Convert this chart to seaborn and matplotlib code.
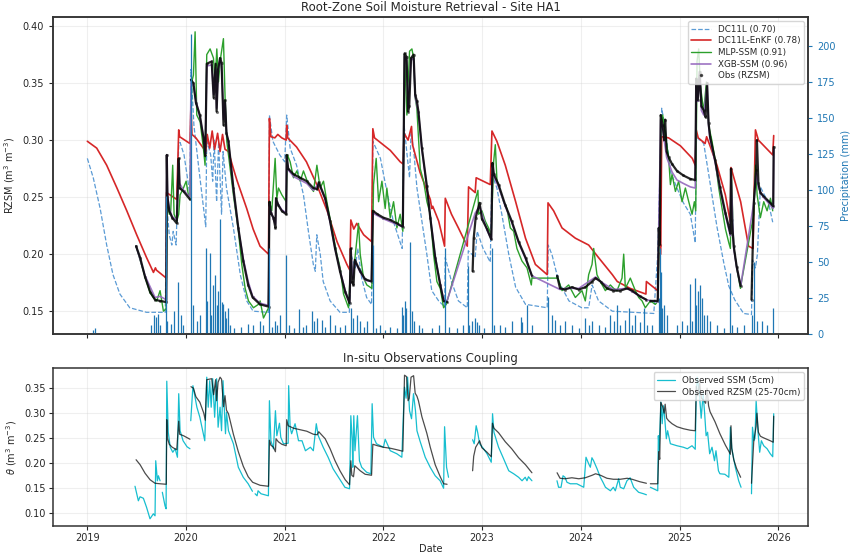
import numpy as np
import pandas as pd
import seaborn as sns
import matplotlib.pyplot as plt
import matplotlib.dates as mdates
from matplotlib.lines import Line2D

sns.set_style("ticks")
plt.rcParams["font.family"] = ["DejaVu Sans"]
plt.rcParams["font.size"] = 7

nan = np.nan

# ---- data (time as decimal year) ----
obs_t = [2019.494, 2019.535, 2019.585, 2019.636, 2019.686, 2019.737, 2019.800, 2019.805, 2019.812, 2019.830,
         2019.860, 2019.906, 2019.926, 2019.935, 2019.975, 2020.040, 2020.045, 2020.050, 2020.075, 2020.100,
         2020.140, 2020.180, 2020.195, 2020.210, 2020.260, 2020.280, 2020.300, 2020.310, 2020.325, 2020.345,
         2020.360, 2020.380, 2020.395, 2020.410, 2020.430, 2020.480, 2020.530, 2020.580, 2020.630, 2020.675,
         2020.750, 2020.836, 2020.845, 2020.860, 2020.886, 2020.906, 2020.912, 2020.935, 2020.970, 2021.015,
         2021.020, 2021.035, 2021.090, 2021.157, 2021.224, 2021.290, 2021.330, 2021.345, 2021.410, 2021.460,
         2021.510, 2021.560, 2021.613, 2021.657, 2021.670, 2021.680, 2021.697, 2021.710, 2021.765, 2021.815,
         2021.880, 2021.893, 2021.940, 2022.000, 2022.070, 2022.137, 2022.197, 2022.214, 2022.235, 2022.250,
         2022.262, 2022.280, 2022.306, 2022.322, 2022.340, 2022.355, 2022.390, 2022.440, 2022.475, 2022.525,
         2022.576, 2022.610, 2022.645, 2022.700, 2022.904, 2022.915, 2022.935, 2022.975, 2022.998, 2023.050,
         2023.093, 2023.105, 2023.120, 2023.167, 2023.235, 2023.300, 2023.370, 2023.440, 2023.505, 2023.600,
         2023.760, 2023.790, 2023.840, 2023.910, 2023.980, 2024.046, 2024.115, 2024.150, 2024.200, 2024.265,
         2024.330, 2024.400, 2024.470, 2024.520, 2024.600, 2024.665, 2024.685, 2024.705, 2024.780, 2024.790,
         2024.800, 2024.810, 2024.830, 2024.845, 2024.855, 2024.870, 2024.890, 2024.925, 2024.975, 2025.040,
         2025.110, 2025.160, 2025.170, 2025.185, 2025.205, 2025.222, 2025.246, 2025.265, 2025.280, 2025.295,
         2025.310, 2025.360, 2025.410, 2025.466, 2025.500, 2025.516, 2025.522, 2025.530, 2025.550, 2025.580,
         2025.620, 2025.680, 2025.730, 2025.753, 2025.777, 2025.785, 2025.800, 2025.820, 2025.850, 2025.920,
         2025.950, 2025.955]
obs_rzsm = [0.207, 0.197, 0.180, 0.167, 0.160, 0.159, 0.158, 0.287, 0.250, 0.238,
            0.232, 0.227, 0.284, 0.258, 0.255, 0.248, nan, 0.353, 0.350, 0.333,
            0.322, 0.300, 0.286, 0.367, 0.369, 0.337, 0.367, 0.325, 0.362, 0.372,
            0.368, 0.313, 0.335, 0.306, 0.299, 0.258, 0.223, 0.194, 0.173, 0.162,
            0.156, 0.154, 0.246, 0.236, 0.232, 0.223, 0.249, 0.243, 0.238, 0.235,
            0.287, 0.275, 0.270, 0.267, 0.264, 0.258, 0.257, 0.263, 0.249, 0.229,
            0.205, 0.185, 0.167, 0.157, 0.205, 0.176, 0.173, 0.195, 0.185, 0.178,
            0.176, 0.238, 0.235, 0.232, 0.230, 0.227, 0.224, 0.376, 0.373, 0.325,
            0.330, 0.372, 0.375, 0.340, 0.334, 0.325, 0.293, 0.260, 0.232, 0.197,
            0.173, 0.159, 0.158, nan, 0.185, 0.214, 0.232, 0.245, 0.231, 0.222,
            0.213, 0.280, 0.270, 0.261, 0.243, 0.229, 0.211, 0.197, 0.181, nan,
            0.181, 0.170, 0.169, 0.171, 0.169, 0.171, 0.176, 0.179, 0.176, 0.170,
            0.168, 0.168, 0.170, 0.168, 0.163, 0.160, nan, 0.159, 0.159, 0.223,
            0.208, 0.322, 0.313, 0.300, 0.318, 0.290, 0.285, 0.279, 0.273, 0.269,
            0.266, 0.265, 0.354, 0.335, 0.360, 0.330, 0.326, 0.320, 0.350, 0.315,
            0.303, 0.283, 0.259, 0.236, 0.224, 0.218, 0.275, 0.230, 0.207, 0.189,
            0.172, nan, 0.160, 0.245, 0.274, 0.300, 0.262, 0.254, 0.251, 0.245,
            0.242, 0.294]

xgb_t = [2019.494, 2019.585, 2019.686, 2019.737, 2019.800, 2019.805, 2019.812, 2019.830, 2019.860, 2019.906,
         2019.926, 2019.935, 2019.975, 2020.040, 2020.050, 2020.075, 2020.100, 2020.140, 2020.180, 2020.195,
         2020.210, 2020.260, 2020.280, 2020.300, 2020.310, 2020.325, 2020.345, 2020.360, 2020.380, 2020.395,
         2020.410, 2020.430, 2020.480, 2020.530, 2020.580, 2020.630, 2020.675, 2020.750, 2020.836, 2020.845,
         2020.860, 2020.906, 2020.912, 2020.970, 2021.015, 2021.020, 2021.035, 2021.090, 2021.157, 2021.224,
         2021.290, 2021.345, 2021.410, 2021.460, 2021.510, 2021.560, 2021.613, 2021.657, 2021.670, 2021.690,
         2021.710, 2021.765, 2021.815, 2021.880, 2021.893, 2022.000, 2022.137, 2022.197, 2022.214, 2022.235,
         2022.250, 2022.280, 2022.306, 2022.322, 2022.355, 2022.390, 2022.440, 2022.475, 2022.525, 2022.576,
         2022.610, 2022.645, 2022.930, 2022.975, 2023.050, 2023.093, 2023.105, 2023.120, 2023.167, 2023.235,
         2023.300, 2023.370, 2023.440, 2023.505, 2023.790, 2023.840, 2023.980, 2024.115, 2024.150, 2024.200,
         2024.330, 2024.470, 2024.600, 2024.665, 2024.780, 2024.790, 2024.810, 2024.830, 2024.870, 2024.925,
         2024.975, 2025.040, 2025.110, 2025.160, 2025.170, 2025.185, 2025.205, 2025.222, 2025.246, 2025.280,
         2025.295, 2025.310, 2025.360, 2025.410, 2025.466, 2025.516, 2025.522, 2025.550, 2025.580, 2025.620,
         2025.753, 2025.777, 2025.800, 2025.850, 2025.920, 2025.950, 2025.955]
xgb_ssm = [0.207, 0.181, 0.162, 0.163, 0.160, 0.287, 0.252, 0.240, 0.233, 0.230,
           0.280, 0.262, 0.256, 0.250, 0.350, 0.348, 0.335, 0.320, 0.302, 0.288,
           0.365, 0.366, 0.340, 0.363, 0.328, 0.360, 0.370, 0.365, 0.318, 0.333,
           0.306, 0.298, 0.256, 0.222, 0.196, 0.176, 0.163, 0.157, 0.155, 0.244,
           0.237, 0.226, 0.247, 0.239, 0.236, 0.284, 0.274, 0.268, 0.265, 0.262,
           0.256, 0.262, 0.248, 0.228, 0.205, 0.186, 0.168, 0.158, 0.203, 0.178,
           0.194, 0.184, 0.177, 0.176, 0.236, 0.231, 0.226, 0.224, 0.374, 0.370,
           0.328, 0.370, 0.372, 0.338, 0.324, 0.292, 0.259, 0.233, 0.198, 0.174,
           0.160, 0.159, 0.236, 0.242, 0.221, 0.213, 0.278, 0.268, 0.259, 0.242,
           0.228, 0.210, 0.196, 0.181, 0.169, 0.170, 0.170, 0.178, 0.180, 0.176,
           0.169, 0.170, 0.163, 0.160, 0.158, 0.220, 0.318, 0.310, 0.285, 0.272,
           0.265, 0.262, 0.259, 0.258, 0.350, 0.334, 0.358, 0.326, 0.322, 0.348,
           0.313, 0.301, 0.281, 0.257, 0.234, 0.216, 0.272, 0.205, 0.188, 0.172,
           0.245, 0.272, 0.258, 0.250, 0.243, 0.240, 0.292]

mlp_t = [2019.494, 2019.534, 2019.585, 2019.636, 2019.669, 2019.703, 2019.737, 2019.771, 2019.798, 2019.811,
         2019.831, 2019.845, 2019.865, 2019.879, 2019.906, 2019.926, 2019.940, 2019.974, 2020.001, 2020.024,
         2020.041, 2020.058, 2020.075, 2020.092, 2020.109, 2020.143, 2020.176, 2020.193, 2020.210, 2020.244,
         2020.278, 2020.295, 2020.312, 2020.329, 2020.345, 2020.379, 2020.396, 2020.413, 2020.430, 2020.480,
         2020.531, 2020.565, 2020.599, 2020.633, 2020.683, 2020.734, 2020.751, 2020.785, 2020.836, 2020.846,
         2020.869, 2020.903, 2020.920, 2020.937, 2020.971, 2021.015, 2021.028, 2021.055, 2021.089, 2021.123,
         2021.157, 2021.190, 2021.241, 2021.292, 2021.326, 2021.359, 2021.393, 2021.427, 2021.477, 2021.528,
         2021.562, 2021.596, 2021.647, 2021.670, 2021.691, 2021.748, 2021.765, 2021.799, 2021.832, 2021.883,
         2021.900, 2021.927, 2021.951, 2021.985, 2022.018, 2022.035, 2022.069, 2022.103, 2022.137, 2022.170,
         2022.197, 2022.214, 2022.238, 2022.265, 2022.289, 2022.306, 2022.322, 2022.339, 2022.373, 2022.407,
         2022.441, 2022.475, 2022.508, 2022.542, 2022.576, 2022.610, 2022.637, 2022.958, 2022.965, 2022.999,
         2023.032, 2023.066, 2023.093, 2023.117, 2023.134, 2023.151, 2023.184, 2023.218, 2023.252, 2023.286,
         2023.320, 2023.353, 2023.404, 2023.455, 2023.499, 2023.505, 2023.769, 2023.810, 2023.877, 2023.945,
         2024.012, 2024.046, 2024.080, 2024.114, 2024.131, 2024.164, 2024.198, 2024.249, 2024.300, 2024.333,
         2024.367, 2024.418, 2024.435, 2024.452, 2024.502, 2024.553, 2024.587, 2024.621, 2024.654, 2024.705,
         2024.756, 2024.783, 2024.796, 2024.813, 2024.830, 2024.857, 2024.891, 2024.908, 2024.925, 2024.959,
         2024.992, 2025.026, 2025.060, 2025.094, 2025.128, 2025.151, 2025.165, 2025.178, 2025.195, 2025.212,
         2025.246, 2025.273, 2025.296, 2025.330, 2025.364, 2025.398, 2025.432, 2025.466, 2025.500, 2025.516,
         2025.526, 2025.550, 2025.584, 2025.618, 2025.635, 2025.753, 2025.770, 2025.787, 2025.820, 2025.854,
         2025.888, 2025.922, 2025.945]
mlp_ssm = [0.207, 0.195, 0.180, 0.166, 0.162, 0.159, 0.168, 0.150, 0.152, 0.252,
           0.235, 0.238, 0.278, 0.235, 0.229, 0.235, 0.252, 0.258, 0.264, 0.252,
           0.249, 0.351, 0.357, 0.395, 0.322, 0.316, 0.293, 0.278, 0.375, 0.380,
           0.372, 0.351, 0.380, 0.351, 0.369, 0.389, 0.337, 0.299, 0.287, 0.252,
           0.220, 0.191, 0.170, 0.159, 0.153, 0.156, 0.159, 0.144, 0.153, 0.246,
           0.238, 0.284, 0.249, 0.258, 0.252, 0.246, 0.287, 0.281, 0.267, 0.273,
           0.264, 0.273, 0.261, 0.255, 0.278, 0.258, 0.264, 0.246, 0.223, 0.200,
           0.188, 0.165, 0.153, 0.194, 0.179, 0.227, 0.200, 0.179, 0.173, 0.170,
           0.261, 0.284, 0.246, 0.264, 0.240, 0.258, 0.232, 0.246, 0.223, 0.235,
           0.220, 0.375, 0.322, 0.378, 0.380, 0.372, 0.337, 0.328, 0.275, 0.264,
           0.246, 0.235, 0.200, 0.176, 0.170, 0.153, 0.156, 0.256, 0.235, 0.238,
           0.229, 0.223, 0.217, 0.281, 0.296, 0.264, 0.255, 0.246, 0.240, 0.223,
           0.220, 0.205, 0.194, 0.188, 0.173, 0.179, 0.179, 0.168, 0.173, 0.162,
           0.168, 0.159, 0.182, 0.191, 0.205, 0.182, 0.176, 0.168, 0.173, 0.170,
           0.168, 0.179, 0.200, 0.170, 0.179, 0.168, 0.162, 0.159, 0.153, 0.159,
           0.156, 0.159, 0.223, 0.313, 0.322, 0.305, 0.284, 0.261, 0.270, 0.255,
           0.264, 0.246, 0.258, 0.246, 0.235, 0.246, 0.238, 0.369, 0.380, 0.348,
           0.325, 0.351, 0.313, 0.299, 0.281, 0.258, 0.240, 0.222, 0.210, 0.205,
           0.272, 0.206, 0.186, 0.170, 0.179, 0.235, 0.278, 0.252, 0.232, 0.246,
           0.238, 0.249, 0.238]

enkf_t = [2019.000, 2019.095, 2019.196, 2019.300, 2019.400, 2019.500, 2019.600, 2019.670, 2019.690, 2019.700,
          2019.800, 2019.803, 2019.906, 2019.926, 2019.935, 2020.040, 2020.050, 2020.060, 2020.100, 2020.150,
          2020.200, 2020.215, 2020.240, 2020.265, 2020.290, 2020.320, 2020.345, 2020.370, 2020.395, 2020.430,
          2020.480, 2020.515, 2020.615, 2020.680, 2020.750, 2020.836, 2020.845, 2020.860, 2020.900, 2020.930,
          2020.970, 2021.015, 2021.020, 2021.030, 2021.120, 2021.220, 2021.325, 2021.430, 2021.530, 2021.630,
          2021.660, 2021.670, 2021.700, 2021.730, 2021.800, 2021.880, 2021.893, 2021.910, 2022.070, 2022.170,
          2022.200, 2022.210, 2022.250, 2022.285, 2022.295, 2022.370, 2022.475, 2022.490, 2022.500, 2022.560,
          2022.620, 2022.627, 2022.690, 2022.760, 2022.850, 2022.863, 2022.930, 2022.940, 2023.083, 2023.100,
          2023.150, 2023.235, 2023.340, 2023.440, 2023.540, 2023.660, 2023.668, 2023.725, 2023.810, 2023.945,
          2024.080, 2024.180, 2024.320, 2024.370, 2024.500, 2024.660, 2024.665, 2024.780, 2024.790, 2024.810,
          2024.820, 2024.890, 2025.010, 2025.130, 2025.160, 2025.170, 2025.190, 2025.260, 2025.275, 2025.310,
          2025.380, 2025.465, 2025.516, 2025.522, 2025.620, 2025.700, 2025.745, 2025.770, 2025.800, 2025.945,
          2025.955]
enkf_rzsm = [0.299, 0.293, 0.278, 0.258, 0.238, 0.217, 0.197, 0.184, 0.188, 0.186,
             0.179, 0.254, 0.248, 0.309, 0.303, 0.297, 0.331, 0.305, 0.302, 0.296,
             0.290, 0.305, 0.293, 0.308, 0.292, 0.306, 0.290, 0.305, 0.292, 0.290,
             0.275, 0.265, 0.240, 0.222, 0.207, 0.200, 0.319, 0.303, 0.302, 0.305,
             0.302, 0.300, 0.313, 0.302, 0.294, 0.281, 0.261, 0.238, 0.211, 0.191,
             0.186, 0.230, 0.222, 0.227, 0.217, 0.211, 0.310, 0.302, 0.291, 0.281,
             0.279, 0.306, 0.300, 0.312, 0.296, 0.272, 0.248, 0.240, 0.242, 0.229,
             0.207, 0.249, 0.235, 0.223, 0.207, 0.259, 0.254, 0.267, 0.261, 0.308,
             0.299, 0.278, 0.246, 0.214, 0.191, 0.182, 0.245, 0.238, 0.223, 0.214,
             0.208, 0.197, 0.182, 0.176, 0.170, 0.165, 0.176, 0.168, 0.201, 0.200,
             0.303, 0.302, 0.295, 0.284, 0.278, 0.309, 0.302, 0.297, 0.303, 0.295,
             0.278, 0.252, 0.228, 0.276, 0.246, 0.207, 0.205, 0.309, 0.300, 0.287,
             0.304]

dc11l_t = [2019.000, 2019.060, 2019.130, 2019.196, 2019.260, 2019.330, 2019.430, 2019.600, 2019.790, 2019.803,
           2019.830, 2019.856, 2019.870, 2019.900, 2019.926, 2019.940, 2019.980, 2020.040, 2020.050, 2020.080,
           2020.130, 2020.200, 2020.210, 2020.250, 2020.270, 2020.285, 2020.310, 2020.330, 2020.360, 2020.375,
           2020.410, 2020.480, 2020.550, 2020.615, 2020.680, 2020.836, 2020.845, 2020.880, 2020.950, 2021.000,
           2021.020, 2021.055, 2021.120, 2021.190, 2021.240, 2021.290, 2021.310, 2021.325, 2021.360, 2021.390,
           2021.460, 2021.560, 2021.655, 2021.670, 2021.715, 2021.740, 2021.780, 2021.830, 2021.880, 2021.893,
           2021.970, 2022.035, 2022.100, 2022.190, 2022.210, 2022.240, 2022.265, 2022.280, 2022.305, 2022.340,
           2022.390, 2022.440, 2022.490, 2022.560, 2022.620, 2022.627, 2022.690, 2022.760, 2022.850, 2022.860,
           2022.930, 2022.950, 2023.010, 2023.083, 2023.100, 2023.150, 2023.200, 2023.270, 2023.340, 2023.440,
           2023.660, 2023.670, 2023.710, 2023.776, 2023.880, 2024.010, 2024.080, 2024.115, 2024.180, 2024.320,
           2024.740, 2024.780, 2024.820, 2024.850, 2024.910, 2024.975, 2025.040, 2025.110, 2025.160, 2025.170,
           2025.246, 2025.300, 2025.380, 2025.450, 2025.500, 2025.560, 2025.650, 2025.730, 2025.740, 2025.770,
           2025.790, 2025.820, 2025.860, 2025.900, 2025.945]
dc11l_rzsm = [0.284, 0.267, 0.240, 0.208, 0.182, 0.165, 0.153, 0.149, 0.149, 0.246,
              0.217, 0.208, 0.220, 0.208, 0.296, 0.298, 0.287, 0.252, 0.362, 0.313,
              0.275, 0.224, 0.300, 0.287, 0.264, 0.300, 0.246, 0.298, 0.235, 0.290,
              0.258, 0.223, 0.182, 0.159, 0.150, 0.149, 0.322, 0.299, 0.287, 0.281,
              0.322, 0.293, 0.278, 0.252, 0.220, 0.191, 0.185, 0.217, 0.200, 0.176,
              0.159, 0.149, 0.149, 0.200, 0.188, 0.205, 0.179, 0.162, 0.156, 0.299,
              0.284, 0.255, 0.229, 0.205, 0.313, 0.287, 0.267, 0.307, 0.293, 0.258,
              0.229, 0.200, 0.168, 0.159, 0.154, 0.197, 0.176, 0.159, 0.153, 0.203,
              0.197, 0.220, 0.205, 0.193, 0.270, 0.258, 0.235, 0.200, 0.171, 0.156,
              0.153, 0.208, 0.199, 0.176, 0.159, 0.153, 0.153, 0.173, 0.159, 0.150,
              0.148, 0.200, 0.328, 0.313, 0.272, 0.258, 0.245, 0.235, 0.210, 0.303,
              0.297, 0.268, 0.224, 0.192, 0.172, 0.160, 0.148, 0.147, 0.195, 0.188,
              0.200, 0.259, 0.252, 0.246, 0.228]

ssm_t = [2019.483, 2019.517, 2019.534, 2019.568, 2019.600, 2019.635, 2019.669, 2019.686, 2019.693, 2019.710,
         2019.720, 2019.737, 2019.745, 2019.760, 2019.787, 2019.798, 2019.805, 2019.820, 2019.840, 2019.866,
         2019.890, 2019.913, 2019.926, 2019.940, 2019.970, 2020.010, 2020.040, 2020.044, 2020.048, 2020.070,
         2020.110, 2020.140, 2020.190, 2020.210, 2020.225, 2020.240, 2020.255, 2020.270, 2020.290, 2020.310,
         2020.325, 2020.345, 2020.360, 2020.375, 2020.400, 2020.410, 2020.430, 2020.480, 2020.530, 2020.580,
         2020.630, 2020.673, 2020.685, 2020.700, 2020.720, 2020.730, 2020.760, 2020.835, 2020.845, 2020.860,
         2020.886, 2020.906, 2020.920, 2020.947, 2020.960, 2020.987, 2021.035, 2021.040, 2021.055, 2021.070,
         2021.105, 2021.140, 2021.175, 2021.210, 2021.260, 2021.290, 2021.320, 2021.340, 2021.390, 2021.440,
         2021.490, 2021.545, 2021.610, 2021.657, 2021.670, 2021.684, 2021.690, 2021.700, 2021.712, 2021.737,
         2021.757, 2021.780, 2021.830, 2021.873, 2021.886, 2021.900, 2021.930, 2022.000, 2022.018, 2022.070,
         2022.136, 2022.187, 2022.200, 2022.214, 2022.230, 2022.245, 2022.265, 2022.285, 2022.305, 2022.325,
         2022.340, 2022.370, 2022.424, 2022.474, 2022.525, 2022.575, 2022.610, 2022.620, 2022.640, 2022.660,
         2022.700, 2022.904, 2022.920, 2022.940, 2022.955, 2022.975, 2023.015, 2023.050, 2023.093, 2023.106,
         2023.120, 2023.167, 2023.218, 2023.270, 2023.320, 2023.370, 2023.405, 2023.437, 2023.455, 2023.470,
         2023.505, 2023.600, 2023.759, 2023.775, 2023.800, 2023.820, 2023.840, 2023.860, 2023.894, 2023.960,
         2024.030, 2024.053, 2024.080, 2024.097, 2024.113, 2024.130, 2024.165, 2024.198, 2024.225, 2024.250,
         2024.300, 2024.330, 2024.350, 2024.384, 2024.400, 2024.435, 2024.468, 2024.500, 2024.536, 2024.586,
         2024.637, 2024.665, 2024.685, 2024.705, 2024.780, 2024.786, 2024.795, 2024.800, 2024.813, 2024.825,
         2024.837, 2024.850, 2024.867, 2024.880, 2024.908, 2024.975, 2025.040, 2025.080, 2025.127, 2025.160,
         2025.170, 2025.180, 2025.200, 2025.220, 2025.240, 2025.255, 2025.270, 2025.285, 2025.306, 2025.330,
         2025.355, 2025.370, 2025.395, 2025.410, 2025.460, 2025.500, 2025.516, 2025.530, 2025.566, 2025.600,
         2025.624, 2025.680, 2025.730, 2025.740, 2025.755, 2025.765, 2025.777, 2025.795, 2025.813, 2025.830,
         2025.854, 2025.888, 2025.920, 2025.945, 2025.955]
ssm_obs = [0.154, 0.125, 0.133, 0.130, 0.112, 0.089, 0.099, 0.095, 0.205, 0.165,
           0.175, 0.165, nan, 0.142, 0.115, 0.109, 0.364, 0.262, 0.232, 0.222,
           0.229, 0.212, 0.339, 0.265, 0.245, 0.233, 0.229, nan, 0.285, 0.355,
           0.312, 0.292, 0.245, 0.372, 0.312, 0.365, 0.312, 0.369, 0.292, 0.369,
           0.272, 0.312, 0.265, 0.365, 0.259, 0.302, 0.265, 0.239, 0.192, 0.172,
           0.159, 0.144, nan, 0.139, 0.135, 0.145, 0.139, 0.135, 0.325, 0.245,
           0.229, 0.305, 0.255, 0.280, 0.252, 0.239, 0.240, 0.355, 0.272, 0.259,
           0.279, 0.245, 0.245, 0.225, 0.232, 0.225, 0.279, 0.255, 0.232, 0.212,
           0.189, 0.172, 0.152, 0.149, 0.295, 0.245, 0.192, 0.295, 0.225, 0.295,
           0.205, 0.192, 0.182, 0.179, 0.319, 0.252, 0.239, 0.232, 0.248, 0.225,
           0.219, 0.212, 0.285, 0.352, 0.330, 0.372, 0.305, 0.289, 0.339, 0.305,
           0.265, 0.245, 0.212, 0.192, 0.175, 0.165, 0.150, 0.273, 0.192, 0.172,
           nan, 0.247, 0.239, 0.275, 0.262, 0.239, 0.229, 0.219, 0.202, 0.299,
           0.262, 0.232, 0.209, 0.185, 0.179, 0.172, 0.165, 0.172, 0.165, 0.173,
           0.165, nan, 0.165, 0.152, 0.152, 0.175, 0.172, 0.162, 0.159, 0.159,
           0.152, 0.212, 0.199, 0.192, 0.211, 0.205, 0.189, 0.172, 0.162, 0.152,
           0.145, 0.152, 0.145, 0.169, 0.152, 0.149, 0.165, 0.171, 0.152, 0.142,
           0.139, 0.137, nan, 0.152, 0.145, 0.255, 0.225, 0.260, 0.322, 0.279,
           0.315, 0.292, 0.249, 0.265, 0.239, 0.235, 0.232, 0.229, 0.235, 0.228,
           0.335, 0.372, 0.345, 0.290, 0.339, 0.300, 0.255, 0.262, 0.219, 0.232,
           0.205, 0.225, 0.185, 0.179, 0.178, 0.172, 0.272, 0.230, 0.192, 0.165,
           0.152, nan, 0.139, 0.272, 0.245, 0.250, 0.325, 0.265, 0.222, 0.245,
           0.235, 0.229, 0.219, 0.213, 0.299]

rain_t = [2019.060, 2019.075, 2019.650, 2019.677, 2019.700, 2019.720, 2019.740, 2019.802, 2019.810, 2019.845,
          2019.879, 2019.920, 2019.950, 2019.965, 2020.050, 2020.075, 2020.110, 2020.143, 2020.200, 2020.210,
          2020.240, 2020.255, 2020.270, 2020.290, 2020.310, 2020.320, 2020.345, 2020.360, 2020.370, 2020.390,
          2020.410, 2020.430, 2020.450, 2020.490, 2020.560, 2020.630, 2020.680, 2020.750, 2020.785, 2020.845,
          2020.870, 2020.903, 2020.920, 2020.955, 2021.015, 2021.040, 2021.090, 2021.140, 2021.190, 2021.220,
          2021.275, 2021.292, 2021.326, 2021.376, 2021.410, 2021.460, 2021.510, 2021.560, 2021.610, 2021.670,
          2021.690, 2021.730, 2021.765, 2021.800, 2021.830, 2021.893, 2021.920, 2021.970, 2022.020, 2022.070,
          2022.137, 2022.187, 2022.200, 2022.214, 2022.228, 2022.272, 2022.289, 2022.306, 2022.356, 2022.390,
          2022.490, 2022.560, 2022.620, 2022.660, 2022.745, 2022.810, 2022.857, 2022.870, 2022.897, 2022.930,
          2022.950, 2022.965, 2023.015, 2023.100, 2023.117, 2023.184, 2023.228, 2023.300, 2023.390, 2023.404,
          2023.455, 2023.505, 2023.665, 2023.710, 2023.740, 2023.790, 2023.840, 2023.910, 2023.980, 2024.046,
          2024.080, 2024.115, 2024.180, 2024.250, 2024.300, 2024.333, 2024.367, 2024.400, 2024.450, 2024.485,
          2024.520, 2024.553, 2024.600, 2024.637, 2024.670, 2024.720, 2024.790, 2024.807, 2024.817, 2024.824,
          2024.840, 2024.875, 2024.975, 2025.026, 2025.077, 2025.110, 2025.128, 2025.160, 2025.170, 2025.185,
          2025.205, 2025.230, 2025.246, 2025.280, 2025.310, 2025.380, 2025.450, 2025.516, 2025.536, 2025.584,
          2025.652, 2025.736, 2025.760, 2025.787, 2025.838, 2025.888, 2025.945]
rain_mm = [3, 4, 6, 13, 12, 14, 6, 96, 9, 7,
           16, 36, 13, 6, 208, 20, 9, 13, 60, 23,
           56, 13, 34, 41, 20, 30, 80, 22, 21, 16,
           11, 18, 6, 4, 5, 7, 6, 9, 6, 60,
           5, 9, 6, 13, 55, 6, 4, 17, 5, 6,
           16, 9, 11, 10, 5, 13, 6, 5, 6, 18,
           11, 13, 9, 5, 9, 62, 4, 6, 3, 5,
           4, 19, 13, 23, 18, 64, 16, 9, 6, 4,
           4, 6, 60, 5, 4, 6, 47, 6, 9, 11,
           8, 6, 4, 60, 6, 6, 5, 9, 12, 8,
           20, 6, 26, 13, 10, 6, 9, 6, 4, 11,
           6, 9, 6, 5, 13, 9, 20, 6, 10, 18,
           6, 13, 8, 18, 6, 6, 25, 60, 43, 18,
           20, 13, 6, 9, 6, 35, 9, 39, 20, 30,
           34, 25, 13, 13, 9, 6, 4, 42, 6, 5,
           6, 13, 50, 9, 9, 6, 18]


def to_dates(t):
    return pd.Timestamp("2019-01-01") + pd.to_timedelta((np.asarray(t) - 2019.0) * 365.25, unit="D")


def series_frame(t, v):
    # segment ids so NaN values break the line
    v = np.asarray(v, dtype=float)
    seg = np.cumsum(np.isnan(v))
    df = pd.DataFrame({"date": to_dates(t), "value": v, "seg": seg})
    return df.dropna()


C_DC11L = "#5b9bd5"
C_ENKF = "#d62728"
C_MLP = "#2ca02c"
C_XGB = "#9467bd"
C_RAIN = "#1f77b4"
C_SSM = "#17becf"

fig = plt.figure(figsize=(8.51, 5.57), dpi=100)
ax = fig.add_axes([0.0623, 0.4004, 0.8872, 0.5691])
ax_b = fig.add_axes([0.0623, 0.0557, 0.8872, 0.2836], sharex=ax)

# precipitation on twin axis
ax2 = ax.twinx()
ax2.vlines(to_dates(rain_t), 0, rain_mm, color=C_RAIN, lw=0.9)
ax2.set_ylim(0, 220)
ax2.set_ylabel("Precipitation (mm)", color=C_RAIN)
ax2.tick_params(axis="y", colors=C_RAIN, labelsize=7, length=3)

dc = series_frame(dc11l_t, dc11l_rzsm)
sns.lineplot(data=dc, x="date", y="value", ax=ax, color=C_DC11L, lw=0.9, linestyle="--", estimator=None, sort=False)
en = series_frame(enkf_t, enkf_rzsm)
sns.lineplot(data=en, x="date", y="value", ax=ax, color=C_ENKF, lw=1.2, estimator=None, sort=False)
ml = series_frame(mlp_t, mlp_ssm)
sns.lineplot(data=ml, x="date", y="value", ax=ax, color=C_MLP, lw=1.0, estimator=None, sort=False)
xg = series_frame(xgb_t, xgb_ssm)
sns.lineplot(data=xg, x="date", y="value", ax=ax, color=C_XGB, lw=1.2, alpha=0.9, estimator=None, sort=False)
ob = series_frame(obs_t, obs_rzsm)
sns.lineplot(data=ob, x="date", y="value", units="seg", ax=ax, color="black", lw=1.6, alpha=0.85,
             estimator=None, sort=False)
sns.scatterplot(data=ob, x="date", y="value", ax=ax, color="black", s=5, alpha=0.5, linewidth=0)

ax.set_ylim(0.13, 0.408)
ax.set_ylabel("RZSM (m$^3$ m$^{-3}$)")
ax.set_xlabel("")
ax.set_title("Root-Zone Soil Moisture Retrieval - Site HA1", fontsize=8.5, pad=4)
ax.grid(True, alpha=0.3)
ax.tick_params(axis="x", labelbottom=False, length=3)
ax.tick_params(axis="y", labelsize=7, length=3)

handles = [
    Line2D([], [], color=C_DC11L, lw=0.9, linestyle="--", label="DC11L (0.70)"),
    Line2D([], [], color=C_ENKF, lw=1.2, label="DC11L-EnKF (0.78)"),
    Line2D([], [], color=C_MLP, lw=1.0, label="MLP-SSM (0.91)"),
    Line2D([], [], color=C_XGB, lw=1.1, label="XGB-SSM (0.96)"),
    Line2D([], [], color="black", marker=".", markersize=3, lw=0, alpha=0.6, label="Obs (RZSM)"),
]
ax2.legend(handles=handles, loc="upper right", fontsize=6.3, framealpha=0.8, borderpad=0.4,
           labelspacing=0.3, handlelength=2.2)

# lower panel: in-situ observations
ss = series_frame(ssm_t, ssm_obs)
sns.lineplot(data=ss, x="date", y="value", units="seg", ax=ax_b, color=C_SSM, lw=0.9,
             estimator=None, sort=False)
sns.lineplot(data=ob, x="date", y="value", units="seg", ax=ax_b, color="black", lw=0.9, alpha=0.7,
             estimator=None, sort=False)
ax_b.set_title("In-situ Observations Coupling", fontsize=8.5, pad=4)
ax_b.set_ylabel(r"$\theta$ (m$^3$ m$^{-3}$)")
ax_b.set_xlabel("Date", labelpad=1)
ax_b.grid(True, alpha=0.3)
ax_b.tick_params(labelsize=7, length=3, pad=2)
b_handles = [
    Line2D([], [], color=C_SSM, lw=0.9, label="Observed SSM (5cm)"),
    Line2D([], [], color="black", lw=0.9, alpha=0.7, label="Observed RZSM (25-70cm)"),
]
ax_b.legend(handles=b_handles, loc="upper right", fontsize=6.3, framealpha=0.8, labelspacing=0.3)

ax_b.xaxis.set_major_locator(mdates.YearLocator())
ax_b.xaxis.set_major_formatter(mdates.DateFormatter("%Y"))

for a in (ax, ax2, ax_b):
    for s in a.spines.values():
        s.set_color("#333333")
        s.set_linewidth(1.1)

fig.savefig("out.png", dpi=100)
